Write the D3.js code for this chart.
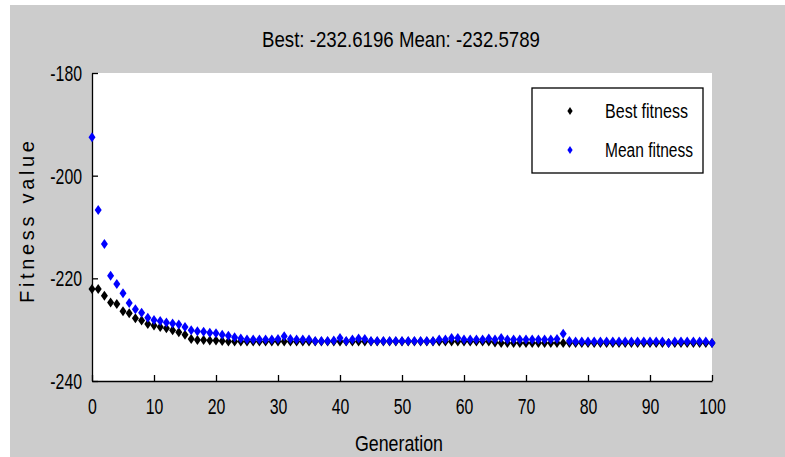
<!DOCTYPE html>
<html><head><meta charset="utf-8">
<script src="https://cdn.jsdelivr.net/npm/d3@7"></script>
<style>body{margin:0;background:#fff;}svg{display:block;font-family:"Liberation Sans",Arial,sans-serif;}</style>
</head><body>
<svg id="c" width="785" height="457"></svg>
<script>
const titleText = "Best: -232.6196 Mean: -232.5789";
const xLabel = "Generation";
const yLabel = "Fitness value";
const seriesNames = ["Best fitness", "Mean fitness"];
const xTicks = [0,10,20,30,40,50,60,70,80,90,100];
const yTicks = [-180,-200,-220,-240];
const generations = d3.range(0,101);
const bestFitness = [
 -222.1,-222.1,-223.4,-224.7,-225.0,-226.4,-226.8,-227.8,-228.2,-228.9,
 -229.2,-229.5,-229.7,-230.1,-230.5,-231.0,-231.8,-232.0,-232.0,-232.1,
 -232.1,-232.2,-232.3,-232.3,-232.3,-232.3,-232.3,-232.3,-232.3,-232.3,
 -232.3,-232.3,-232.3,-232.3,-232.3,-232.3,-232.3,-232.3,-232.3,-232.3,
 -232.3,-232.3,-232.3,-232.3,-232.3,-232.3,-232.3,-232.3,-232.3,-232.3,
 -232.3,-232.3,-232.3,-232.3,-232.3,-232.3,-232.3,-232.3,-232.3,-232.3,
 -232.3,-232.3,-232.3,-232.3,-232.3,-232.5,-232.6,-232.6,-232.6,-232.6,
 -232.6,-232.6,-232.6,-232.6,-232.6,-232.6,-232.6,-232.6,-232.6,-232.6,
 -232.6,-232.6,-232.6,-232.6,-232.6,-232.6,-232.6,-232.6,-232.6,-232.6,
 -232.6,-232.6,-232.6,-232.6,-232.6,-232.6,-232.6,-232.6,-232.6,-232.6,
 -232.6196];
const meanFitness = [
 -192.5,-206.7,-213.3,-219.5,-221.1,-222.9,-224.8,-226.0,-226.7,-227.7,
 -228.1,-228.3,-228.6,-228.8,-229.0,-229.5,-230.1,-230.3,-230.4,-230.6,
 -230.7,-231.0,-231.2,-231.5,-231.7,-231.9,-231.9,-231.9,-231.9,-231.9,
 -231.8,-231.3,-231.8,-231.9,-231.9,-231.9,-232.2,-232.2,-232.2,-232.1,
 -231.6,-232.2,-231.9,-231.7,-231.8,-232.2,-232.2,-232.2,-232.2,-232.2,
 -232.2,-232.2,-232.2,-232.2,-232.2,-232.2,-231.9,-231.9,-231.6,-231.6,
 -231.9,-231.9,-231.9,-231.9,-231.7,-231.9,-231.6,-231.9,-231.9,-231.9,
 -231.9,-231.9,-231.9,-231.9,-231.9,-231.8,-230.8,-232.2,-232.3,-232.3,
 -232.3,-232.3,-232.3,-232.3,-232.3,-232.3,-232.3,-232.3,-232.3,-232.3,
 -232.3,-232.3,-232.3,-232.6,-232.3,-232.3,-232.3,-232.3,-232.3,-232.3,
 -232.5789];

const svg = d3.select("#c");
const W = 785, H = 457;
const m = {left:92, right:712, top:73, bottom:381};

svg.append("rect").attr("x",10).attr("y",5).attr("width",W-10).attr("height",H-5).attr("fill","#cccccc");
svg.append("rect").attr("x",m.left).attr("y",m.top).attr("width",m.right-m.left).attr("height",m.bottom-m.top).attr("fill","#fff");

const x = d3.scaleLinear().domain([0,100]).range([m.left,m.right]);
const y = d3.scaleLinear().domain([-240,-180]).range([m.bottom,m.top]);

function condense(sel, f){ sel.each(function(){ const w=this.getComputedTextLength(); d3.select(this).attr("textLength",w*f).attr("lengthAdjust","spacingAndGlyphs"); }); }

const xAxis = svg.append("g").attr("transform",`translate(0,${m.bottom})`)
  .call(d3.axisBottom(x).tickValues(xTicks).tickSizeInner(-6).tickSizeOuter(0).tickPadding(14).tickFormat(d=>String(d)));
const yAxis = svg.append("g").attr("transform",`translate(${m.left},0)`)
  .call(d3.axisLeft(y).tickValues(yTicks).tickSizeInner(-6).tickSizeOuter(0).tickPadding(10).tickFormat(d=>String(d)));
[xAxis,yAxis].forEach(a=>{
  a.selectAll(".domain").attr("stroke","#000").attr("stroke-width",1.3);
  a.selectAll(".tick line").attr("stroke","#000").attr("stroke-width",1.3);
  a.selectAll("text").attr("font-size",22).attr("fill","#000").attr("font-family","Liberation Sans, Arial, sans-serif");
});
xAxis.selectAll(".tick text").attr("dy","0.88em");
yAxis.selectAll(".tick text").attr("dy","0.34em");
condense(xAxis.selectAll(".tick text"),0.72);
condense(yAxis.selectAll(".tick text"),0.72);

const diamond = "M0,-5L3.5,0L0,5L-3.5,0Z";
const plot = svg.append("g");
plot.selectAll("path.best").data(generations).join("path").attr("class","best")
  .attr("d",diamond).attr("transform",d=>`translate(${x(d)},${y(bestFitness[d])})`).attr("fill","#000");
plot.selectAll("path.mean").data(generations).join("path").attr("class","mean")
  .attr("d",diamond).attr("transform",d=>`translate(${x(d)},${y(meanFitness[d])})`).attr("fill","#0000ff");

const title = svg.append("text").attr("x",401).attr("y",47).attr("text-anchor","middle").attr("font-size",22).text(titleText);
title.attr("textLength",278).attr("lengthAdjust","spacingAndGlyphs");
const xl = svg.append("text").attr("x",399).attr("y",451).attr("text-anchor","middle").attr("font-size",22).text(xLabel);
xl.attr("textLength",88).attr("lengthAdjust","spacingAndGlyphs");
const yl = svg.append("text").attr("transform","translate(34,222) rotate(-90)").attr("text-anchor","middle").attr("font-size",20).text(yLabel);
yl.attr("textLength",162).attr("lengthAdjust","spacing");

// legend
const lg = svg.append("g");
lg.append("rect").attr("x",532).attr("y",88).attr("width",171).attr("height",85).attr("fill","#fff").attr("stroke","#000").attr("stroke-width",1.3);
const legColors = ["#000","#0000ff"];
const smallDiamond = "M0,-4L2.6,0L0,4L-2.6,0Z";
seriesNames.forEach((n,i)=>{
  const yy = 111 + i*39;
  lg.append("path").attr("d",smallDiamond).attr("transform",`translate(570,${yy})`).attr("fill",legColors[i]);
  const t = lg.append("text").attr("x",605).attr("y",yy+7).attr("font-size",20).attr("fill","#000").text(n);
  t.attr("textLength", i===0?83:88).attr("lengthAdjust","spacingAndGlyphs");
});
</script>
</body></html>
